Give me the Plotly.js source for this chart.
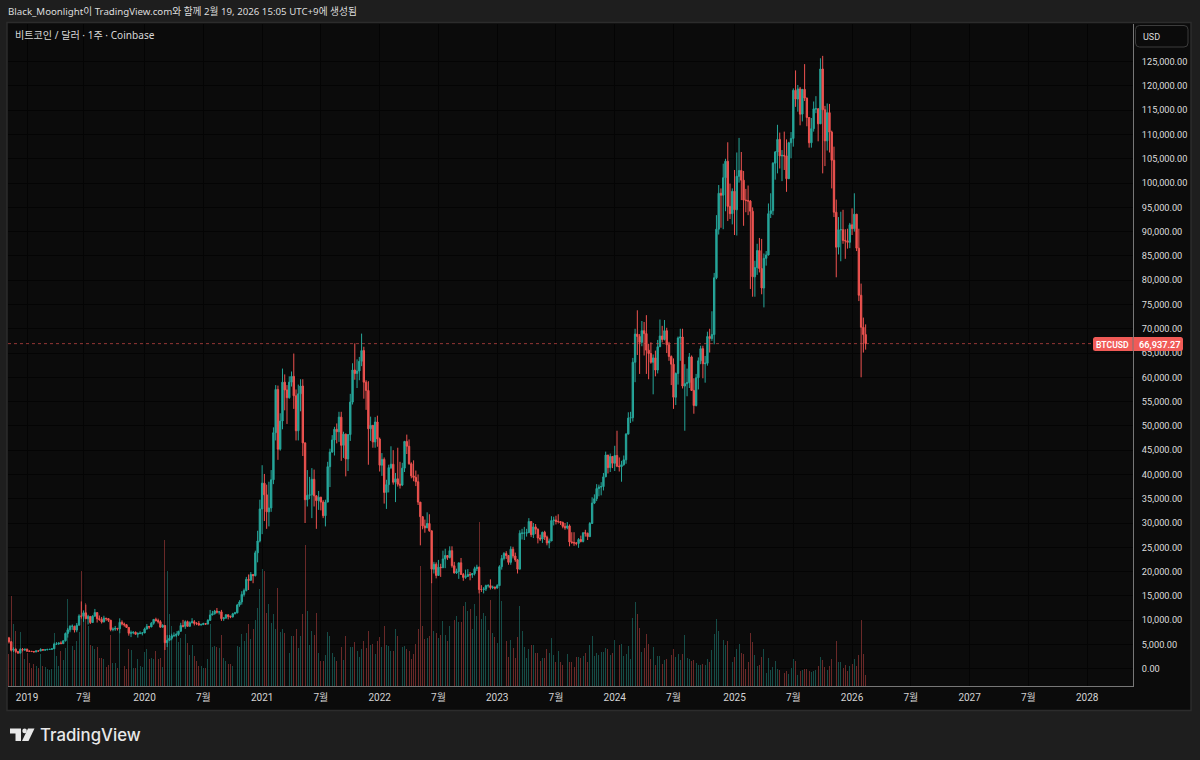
<!DOCTYPE html>
<html><head><meta charset="utf-8">
<script src="https://cdn.plot.ly/plotly-3.0.1.min.js"></script>
<style>html,body{margin:0;padding:0;background:#1e1e1e}#c{width:1200px;height:760px}</style>
</head><body><div id="c"></div>
<script>
// Weekly candles, prices in thousands of USD, first week starts 2018-11-12
var firstWeek = '2018-11-12';
var opens = [
6.33,5.56,3.8,4.0,3.55,3.2,3.95,3.85,4.03,3.6,3.58,3.53,3.46,3.66,3.63,3.95,3.83,3.9,3.98,3.98,
4.1,5.05,5.07,5.3,5.15,5.75,7.25,8.0,8.73,8.75,7.95,8.95,10.85,10.8,11.5,10.3,10.77,9.5,10.8,11.55,
10.3,10.15,9.6,10.4,10.3,9.98,8.05,8.15,8.3,8.2,9.55,9.2,9.04,8.5,7.3,7.4,7.5,7.1,7.25,7.3,
7.35,8.15,8.7,8.6,9.35,10.15,9.9,9.67,8.55,8.9,5.35,5.85,6.25,6.78,6.85,7.05,7.7,8.88,8.72,9.68,
8.72,9.45,9.67,9.33,9.3,9.0,9.07,9.3,9.18,9.95,11.05,11.3,11.85,11.65,11.7,10.3,10.45,11.1,10.75,10.65,
11.3,11.5,13.1,13.75,15.3,16.1,18.4,18.2,19.4,19.15,23.85,26.3,32.9,38.2,35.8,32.3,33.1,38.9,48.6,57.5,
45.2,51.0,59.0,57.4,55.8,59.0,60.2,56.2,49.0,56.6,58.2,46.5,34.8,35.7,35.8,39.0,35.6,34.6,35.3,34.3,
31.5,34.3,41.6,44.6,47.1,49.3,48.8,51.8,46.0,48.3,43.2,48.2,54.9,61.5,60.8,61.3,63.3,65.5,59.0,57.3,
49.4,50.1,46.7,50.8,47.3,41.9,43.1,36.3,37.9,41.4,42.1,38.4,39.1,38.0,37.8,41.3,46.8,45.8,42.2,39.7,
39.4,38.5,34.3,31.3,29.4,29.0,29.9,28.4,20.5,21.5,19.2,20.9,20.8,22.6,23.3,22.9,24.3,21.2,19.7,20.0,
21.8,19.4,18.8,19.0,19.4,19.3,19.6,20.6,20.9,16.3,16.3,16.4,17.1,17.1,16.7,16.8,16.6,17.1,21.0,22.7,
23.7,23.3,21.9,24.6,23.2,22.4,20.5,27.9,27.9,27.9,28.0,30.3,27.6,29.2,28.7,26.9,26.7,28.1,27.1,25.9,
26.3,30.5,30.6,30.3,30.3,30.1,29.3,29.0,29.4,26.1,26.0,25.9,25.8,26.6,26.2,28.0,27.9,27.2,29.9,34.1,
35.0,37.1,37.4,37.5,39.5,44.0,41.4,43.7,42.3,43.9,41.7,41.6,42.0,43.0,48.3,51.6,51.7,63.1,68.9,68.4,
67.2,69.6,69.0,65.6,64.9,63.1,64.0,61.5,66.3,68.5,67.8,69.6,66.7,64.3,62.7,55.9,60.8,68.1,68.3,58.2,
58.7,58.9,64.2,57.3,54.2,59.9,63.4,65.9,62.8,62.9,68.4,68.0,68.8,80.5,90.5,97.9,97.5,101.1,104.5,95.2,
93.7,98.3,94.5,101.4,102.6,100.6,96.5,96.4,96.3,94.2,80.7,82.6,86.1,82.4,78.4,84.5,85.2,93.7,94.3,104.1,
106.4,109.0,105.6,105.7,105.6,100.9,108.3,109.2,119.1,117.3,119.4,114.2,119.3,117.5,113.5,108.3,111.2,115.3,115.3,112.2,
123.5,115.1,108.7,114.5,110.5,104.7,94.0,86.8,90.4,90.4,88.2,88.1,87.8,91.4,90.6,93.6,86.6,76.9,70.3,68.8];
var highs = [
6.54,5.65,4.4,4.2,3.6,4.2,4.25,4.05,4.1,3.75,3.65,3.56,3.72,3.7,4.2,3.98,3.95,4.0,4.05,4.15,
5.35,5.47,5.35,5.64,5.8,7.45,8.38,8.95,9.1,8.82,9.4,11.2,13.85,12.0,13.2,11.1,10.8,11.0,12.3,11.55,
10.95,10.65,10.9,10.45,10.35,10.05,8.5,8.8,8.4,10.37,9.95,9.48,9.17,8.5,7.85,7.7,7.65,7.5,7.7,7.55,
8.45,9.2,8.8,9.6,10.15,10.5,10.3,9.98,9.18,8.9,6.9,6.95,7.2,7.47,7.3,7.8,9.45,10.05,9.95,9.9,
9.75,10.4,10.0,9.6,9.8,9.3,9.47,9.35,10.2,12.1,11.9,12.1,12.5,11.8,12.1,10.6,11.2,11.1,10.95,11.5,
11.7,13.35,14.1,15.95,16.5,18.9,19.4,19.9,19.4,24.3,28.4,34.8,41.9,40.1,37.9,38.5,40.9,49.7,58.4,58.3,
52.6,61.8,60.6,58.4,60.2,61.2,64.9,57.5,58.5,59.6,59.6,46.6,40.9,39.5,41.3,41.0,35.7,36.6,35.4,34.7,
34.8,42.6,45.3,48.1,49.8,50.5,52.9,52.9,48.8,48.4,48.3,56.6,62.9,67.0,63.7,64.2,69.0,66.3,59.4,59.2,
51.9,50.2,51.8,52.1,47.6,44.4,43.5,38.9,42.0,45.8,45.0,40.3,45.5,42.6,42.4,46.9,48.2,47.2,42.5,42.9,
40.8,40.0,34.3,31.4,30.7,32.2,31.8,28.4,22.0,21.9,22.4,21.6,24.3,24.7,23.4,25.2,25.2,22.0,20.6,21.8,
22.8,19.7,20.4,20.5,19.9,19.7,21.0,21.4,21.0,17.2,16.8,17.3,17.4,18.4,17.1,16.9,17.4,21.3,23.4,24.0,
24.2,23.4,25.2,25.1,23.9,22.6,28.5,28.8,29.2,28.8,31.0,30.3,30.0,29.8,28.9,27.6,28.2,28.4,27.4,26.8,
31.4,31.3,31.5,31.8,30.4,30.3,30.0,30.2,29.7,28.1,28.1,26.1,26.9,27.4,28.0,28.6,28.0,30.2,35.3,35.9,
38.0,37.9,38.4,40.3,44.7,44.0,44.3,43.8,45.9,49.0,43.5,42.8,43.9,48.5,52.8,52.9,64.0,70.0,73.8,68.9,
71.6,71.4,72.8,66.9,67.2,64.7,65.5,67.7,71.9,70.6,71.8,70.2,67.3,64.5,63.9,61.0,68.4,70.0,70.0,62.7,
61.8,65.0,64.5,59.8,60.7,64.1,66.5,66.5,64.4,69.4,70.0,73.6,81.5,93.4,99.6,98.9,104.0,105.0,108.4,99.9,
98.9,102.7,106.3,109.3,106.4,102.5,98.8,99.5,96.5,95.0,84.0,87.5,88.7,88.5,85.5,86.0,95.8,97.9,104.3,106.6,
112.0,110.4,106.8,110.6,109.0,108.5,110.5,119.5,123.2,120.2,119.8,119.3,124.5,117.6,113.5,113.4,116.8,117.9,115.4,125.7,
126.2,115.9,116.4,116.3,110.8,107.5,96.6,93.0,94.1,94.5,90.5,90.6,91.8,94.8,97.9,93.6,90.6,79.3,72.3,70.9];
var lows = [
5.2,3.55,3.45,3.25,3.12,3.2,3.55,3.65,3.5,3.47,3.48,3.36,3.39,3.55,3.63,3.7,3.67,3.78,3.9,3.9,
4.1,4.9,4.95,5.1,5.1,5.6,6.4,7.5,8.0,7.45,7.5,8.95,10.3,9.65,10.3,9.1,9.2,9.4,10.8,9.5,
9.85,9.3,9.6,9.85,9.6,7.7,7.7,7.8,7.85,7.3,8.9,8.65,8.4,6.8,6.5,7.1,7.0,6.4,7.1,6.85,
7.35,8.1,8.2,8.55,9.05,9.7,9.3,8.45,8.5,3.85,4.45,5.7,5.85,6.5,6.5,6.75,7.65,8.5,8.2,8.7,
8.65,9.35,8.9,8.97,8.85,8.95,9.05,9.0,9.13,9.9,11.0,11.15,11.35,11.15,9.85,9.85,10.25,10.15,10.4,10.55,
11.2,11.4,12.75,13.2,14.85,15.9,16.2,18.1,17.6,19.0,21.9,26.0,27.7,30.4,28.8,29.3,32.3,38.0,47.0,43.0,
44.9,49.3,53.2,50.4,55.6,58.1,53.5,47.0,47.0,53.0,43.8,30.0,33.4,34.9,31.0,33.4,28.8,32.7,32.6,31.0,
29.3,34.3,37.4,44.5,43.9,46.4,46.7,42.8,43.4,39.6,40.7,46.9,54.4,59.5,57.8,59.4,62.3,55.6,53.3,42.0,
46.9,45.5,45.5,45.7,40.6,39.7,34.0,32.9,36.3,41.1,37.9,34.3,37.5,37.1,37.6,40.5,44.2,42.0,39.2,38.6,
37.6,33.7,25.4,28.7,28.0,29.0,28.2,17.6,19.6,18.6,19.2,18.9,20.7,20.7,22.4,22.7,20.8,19.6,19.5,18.5,
19.3,18.1,18.5,19.0,18.2,18.7,19.2,20.1,15.5,15.8,15.5,16.0,16.7,16.3,16.4,16.3,16.5,17.1,20.4,22.3,
22.6,21.4,21.4,22.7,22.0,19.6,20.5,26.6,26.5,27.2,28.0,27.1,26.9,27.7,25.8,26.3,25.9,26.5,25.4,24.8,
26.3,29.5,29.7,29.9,29.6,28.9,28.6,28.7,25.2,25.7,25.3,25.4,24.9,26.0,26.0,27.2,26.5,27.1,29.9,33.9,
34.5,35.5,35.7,36.7,39.5,40.2,40.5,41.3,40.7,41.5,40.6,38.5,41.8,42.2,48.3,50.6,50.9,59.0,64.6,60.7,
66.4,64.5,60.7,59.6,62.8,56.5,60.2,60.8,66.3,67.2,67.6,65.0,63.4,58.4,53.5,54.3,58.5,63.4,57.7,49.0,
56.1,57.8,57.2,52.5,54.0,57.5,62.7,59.8,58.9,62.4,65.1,67.5,66.8,80.2,89.4,90.8,90.5,94.2,92.2,92.6,
91.5,89.3,89.2,100.1,96.5,91.2,94.0,93.4,78.2,76.6,76.6,81.1,81.6,77.1,74.4,83.0,85.1,92.8,93.4,100.7,
102.0,103.0,100.4,102.7,98.2,100.9,105.1,107.5,115.7,114.7,111.9,112.7,116.9,111.7,107.3,107.3,110.6,114.4,108.6,112.2,
102.0,103.5,106.7,106.3,98.9,93.0,80.6,85.3,83.9,87.5,84.4,86.5,86.6,89.3,90.0,86.0,75.7,60.0,65.1,65.7];
var closes = [
5.56,3.8,4.0,3.55,3.2,3.95,3.85,4.03,3.6,3.58,3.53,3.46,3.66,3.63,3.95,3.83,3.9,3.98,3.98,4.1,
5.05,5.07,5.3,5.15,5.75,7.25,8.0,8.73,8.75,7.95,8.95,10.85,10.8,11.5,10.3,10.77,9.5,10.8,11.55,10.3,
10.15,9.6,10.4,10.3,9.98,8.05,8.15,8.3,8.2,9.55,9.2,9.04,8.5,7.3,7.4,7.5,7.1,7.25,7.3,7.35,
8.15,8.7,8.6,9.35,10.15,9.9,9.67,8.55,8.9,5.35,5.85,6.25,6.78,6.85,7.05,7.7,8.88,8.72,9.68,8.72,
9.45,9.67,9.33,9.3,9.0,9.07,9.3,9.18,9.95,11.05,11.3,11.85,11.65,11.7,10.3,10.45,11.1,10.75,10.65,11.3,
11.5,13.1,13.75,15.3,16.1,18.4,18.2,19.4,19.15,23.85,26.3,32.9,38.2,35.8,32.3,33.1,38.9,48.6,57.5,45.2,
51.0,59.0,57.4,55.8,59.0,60.2,56.2,49.0,56.6,58.2,46.5,34.8,35.7,35.8,39.0,35.6,34.6,35.3,34.3,31.5,
34.3,41.6,44.6,47.1,49.3,48.8,51.8,46.0,48.3,43.2,48.2,54.9,61.5,60.8,61.3,63.3,65.5,59.0,57.3,49.4,
50.1,46.7,50.8,47.3,41.9,43.1,36.3,37.9,41.4,42.1,38.4,39.1,38.0,37.8,41.3,46.8,45.8,42.2,39.7,39.4,
38.5,34.3,31.3,29.4,29.0,29.9,28.4,20.5,21.5,19.2,20.9,20.8,22.6,23.3,22.9,24.3,21.2,19.7,20.0,21.8,
19.4,18.8,19.0,19.4,19.3,19.6,20.6,20.9,16.3,16.3,16.4,17.1,17.1,16.7,16.8,16.6,17.1,21.0,22.7,23.7,
23.3,21.9,24.6,23.2,22.4,20.5,27.9,27.9,27.9,28.0,30.3,27.6,29.2,28.7,26.9,26.7,28.1,27.1,25.9,26.3,
30.5,30.6,30.3,30.3,30.1,29.3,29.0,29.4,26.1,26.0,25.9,25.8,26.6,26.2,28.0,27.9,27.2,29.9,34.1,35.0,
37.1,37.4,37.5,39.5,44.0,41.4,43.7,42.3,43.9,41.7,41.6,42.0,43.0,48.3,51.6,51.7,63.1,68.9,68.4,67.2,
69.6,69.0,65.6,64.9,63.1,64.0,61.5,66.3,68.5,67.8,69.6,66.7,64.3,62.7,55.9,60.8,68.1,68.3,58.2,58.7,
58.9,64.2,57.3,54.2,59.9,63.4,65.9,62.8,62.9,68.4,68.0,68.8,80.5,90.5,97.9,97.5,101.1,104.5,95.2,93.7,
98.3,94.5,101.4,102.6,100.6,96.5,96.4,96.3,94.2,80.7,82.6,86.1,82.4,78.4,84.5,85.2,93.7,94.3,104.1,106.4,
109.0,105.6,105.7,105.6,100.9,108.3,109.2,119.1,117.3,119.4,114.2,119.3,117.5,113.5,108.3,111.2,115.3,115.3,112.2,123.5,
115.1,108.7,114.5,110.5,104.7,94.0,86.8,90.4,90.4,88.2,88.1,87.8,91.4,90.6,93.6,86.6,76.9,70.3,68.8,66.94];
// Relative weekly volume
var volumes = [
32,90,62,55,35,54,35,27,33,23,18,22,20,18,32,20,19,17,16,17,
53,30,20,35,26,38,87,41,40,36,45,54,115,75,83,60,41,40,37,39,
28,28,27,19,21,51,23,23,18,53,21,20,17,37,36,18,18,27,20,19,
34,37,27,28,27,35,27,28,19,146,115,72,60,48,55,44,48,77,52,43,
31,41,30,25,20,20,18,18,27,62,39,40,39,38,51,28,25,22,22,20,
20,40,39,52,45,53,62,47,57,66,78,97,117,115,73,82,63,72,57,98,
54,57,53,52,33,50,50,57,38,50,72,141,75,41,55,51,73,33,25,25,
31,54,50,33,29,25,32,39,26,50,30,39,39,44,35,29,37,45,38,55,
41,42,32,45,49,39,60,41,40,35,35,57,50,44,39,40,37,35,27,32,
42,57,120,60,47,48,50,104,55,53,48,51,65,51,45,60,65,66,70,64,
64,80,84,75,77,57,82,70,164,67,73,70,56,86,53,49,43,110,85,75,
45,29,46,38,28,49,80,55,39,28,37,41,41,33,33,25,28,28,37,33,
48,31,24,35,24,21,21,32,24,24,19,29,29,28,30,33,24,41,50,30,
33,31,34,34,38,37,31,33,46,75,41,42,30,32,40,27,68,84,72,58,
34,38,52,42,27,39,21,30,30,22,26,27,24,31,37,29,32,26,32,51,
28,27,25,26,23,21,21,22,21,27,24,36,52,67,55,32,46,41,45,26,
24,29,37,42,33,32,17,24,53,44,31,20,21,29,37,13,28,16,19,25,
17,16,14,13,15,12,18,27,25,11,15,16,17,17,15,14,15,16,20,29,
26,19,16,20,27,27,45,24,24,18,21,15,20,22,27,20,31,66,32,11];
var timeTickDates = ['2019-01-07','2019-07-01','2020-01-06','2020-07-06','2021-01-04','2021-07-05','2022-01-03','2022-07-04','2023-01-02','2023-07-03','2024-01-01','2024-07-01','2025-01-06','2025-07-07','2026-01-05','2026-07-06','2027-01-04','2027-07-05','2028-01-03'];
var timeTickLabels = ['2019','7월','2020','7월','2021','7월','2022','7월','2023','7월','2024','7월','2025','7월','2026','7월','2027','7월','2028'];
var priceTicks = [0,5,10,15,20,25,30,35,40,45,50,55,60,65,70,75,80,85,90,95,100,105,110,115,120,125];
var priceTickLabels = ['0.00','5,000.00','10,000.00','15,000.00','20,000.00','25,000.00','30,000.00','35,000.00','40,000.00','45,000.00','50,000.00','55,000.00','60,000.00','65,000.00','70,000.00','75,000.00','80,000.00','85,000.00','90,000.00','95,000.00','100,000.00','105,000.00','110,000.00','115,000.00','120,000.00','125,000.00'];
var lastPrice = 66.93727;
var lastPriceLabel = '66,937.27';

var UP = '#26a69a', DOWN = '#ef5350';
var dates = opens.map(function(_, i){
  return new Date(Date.parse(firstWeek + 'T00:00:00Z') + i*7*864e5).toISOString().slice(0,10);
});
var volColors = closes.map(function(c,i){ return c >= opens[i] ? 'rgba(38,166,154,0.42)' : 'rgba(239,83,80,0.42)'; });

// page pixel -> paper coordinate, for the decorations outside the plot
var L=8,R=1133,T=24,B=686;
function px(x){ return (x-L)/(R-L); }
function py(y){ return (B-y)/(B-T); }
function rrect(x0,y0,x1,y1,r){
  return 'M'+px(x0+r)+','+py(y0)+' L'+px(x1-r)+','+py(y0)+' Q'+px(x1)+','+py(y0)+' '+px(x1)+','+py(y0+r)+
   ' L'+px(x1)+','+py(y1-r)+' Q'+px(x1)+','+py(y1)+' '+px(x1-r)+','+py(y1)+' L'+px(x0+r)+','+py(y1)+
   ' Q'+px(x0)+','+py(y1)+' '+px(x0)+','+py(y1-r)+' L'+px(x0)+','+py(y0+r)+' Q'+px(x0)+','+py(y0)+' '+px(x0+r)+','+py(y0)+' Z';
}
function poly(pts){ return 'M'+pts.map(function(p){return px(p[0])+','+py(p[1]);}).join(' L')+' Z'; }
var FONT = '"Noto Sans","Noto Sans CJK KR",sans-serif';
var TICKFONT = 'Roboto,"Noto Sans CJK KR",sans-serif';
function note(x,y,text,size,color,anchor,weight,family){
  return {xref:'paper',yref:'paper',x:px(x),y:py(y),text:text,showarrow:false,xanchor:anchor||'left',yanchor:'middle',
    font:{size:size,color:color,family:family||FONT,weight:weight||400}};
}

var traces = [
 {type:'bar',x:dates,y:volumes,width:254016000,xaxis:'x',yaxis:'y',marker:{color:volColors,line:{width:0}},hoverinfo:'skip',showlegend:false},
 {type:'candlestick',x:dates,open:opens,high:highs,low:lows,close:closes,xaxis:'x',yaxis:'y2',whiskerwidth:0,
  increasing:{line:{color:UP,width:1},fillcolor:UP},decreasing:{line:{color:DOWN,width:1},fillcolor:DOWN},hoverinfo:'skip',showlegend:false}
];
var layout = {
 width:1200,height:760,margin:{l:L,r:1200-R,t:T,b:760-B,pad:0},
 paper_bgcolor:'#1e1e1e',plot_bgcolor:'#0b0b0b',showlegend:false,bargap:0,boxgap:0.25,boxgroupgap:0.2,
 xaxis:{type:'date',range:['2018-11-09','2028-05-24'],tickmode:'array',tickvals:timeTickDates,ticktext:timeTickLabels,
   showgrid:true,gridcolor:'#040404',gridwidth:1,zeroline:false,showline:true,linecolor:'#777777',linewidth:1,
   ticks:'outside',ticklen:2,tickcolor:'rgba(0,0,0,0)',tickfont:{size:10,color:'#d4d4d4',family:TICKFONT},rangeslider:{visible:false},fixedrange:true},
 yaxis:{range:[0,662],visible:false,showgrid:false,zeroline:false,fixedrange:true},
 yaxis2:{overlaying:'y',side:'right',range:[-3.567,132.76],tickmode:'array',tickvals:priceTicks,ticktext:priceTickLabels,
   showgrid:true,gridcolor:'#040404',gridwidth:1,zeroline:false,showline:true,linecolor:'#777777',linewidth:1,
   ticks:'outside',ticklen:6,tickcolor:'rgba(0,0,0,0)',tickfont:{size:9.2,color:'#dddddd',family:TICKFONT},fixedrange:true},
 shapes:[
  {type:'path',xref:'paper',yref:'paper',layer:'below',path:poly([[7,22.5],[1191,22.5],[1191,710.5],[7,710.5]]),fillcolor:'#0b0b0b',line:{color:'#2c2c2c',width:1.5}},
  {type:'line',xref:'paper',yref:'y2',x0:0,x1:1,y0:lastPrice,y1:lastPrice,layer:'above',line:{color:'rgba(239,83,80,0.6)',width:1,dash:'dot'}},
  {type:'path',xref:'paper',yref:'paper',layer:'above',path:rrect(1093,337,1183,351,2.5),fillcolor:'#f15b57',line:{width:0}},
  {type:'line',xref:'paper',yref:'paper',layer:'above',x0:1,x1:1,y0:py(337),y1:py(351),line:{color:'#777777',width:1}},
  {type:'path',xref:'paper',yref:'paper',layer:'above',path:rrect(1135.5,25.5,1188,47,4),fillcolor:'rgba(0,0,0,0)',line:{color:'#3c3c3c',width:1}},
  {type:'path',xref:'paper',yref:'paper',layer:'above',path:poly([[10,728.5],[21,728.5],[21,741],[15.5,741],[15.5,733.5],[10,733.5]]),fillcolor:'#e8e8e8',line:{width:0}},
  {type:'circle',xref:'paper',yref:'paper',layer:'above',x0:px(22.3),x1:px(26.9),y0:py(733.2),y1:py(728.6),fillcolor:'#e8e8e8',line:{width:0}},
  {type:'path',xref:'paper',yref:'paper',layer:'above',path:poly([[28,728.5],[34.5,728.5],[28.5,741],[22,741]]),fillcolor:'#e8e8e8',line:{width:0}}
 ],
 annotations:[
  note(6,12,'Black_Moonlight이 TradingView.com와 함께 2월 19, 2026 15:05 UTC+9에 생성됨',9.7,'#dddddd'),
  note(13,34.5,'비트코인 / 달러 · 1주 · Coinbase',10.1,'#d8d8d8'),
  note(1141,37,'USD',9,'#dddddd','left',400,TICKFONT),
  note(1112.5,344.5,'BTCUSD',8.6,'#ffffff','center',600,TICKFONT),
  note(1160,344.5,lastPriceLabel,9.2,'#ffffff','center',600,TICKFONT),
  note(38,735,'TradingView',16.8,'#e8e8e8','left',500,'Inter,"Noto Sans",sans-serif')
 ]
};
Plotly.newPlot('c',traces,layout,{displayModeBar:false,staticPlot:true});
</script></body></html>
